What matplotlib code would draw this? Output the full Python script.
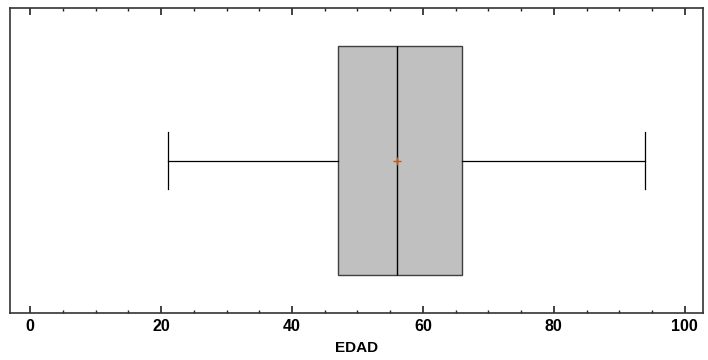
import matplotlib
matplotlib.use("Agg")
import matplotlib.pyplot as plt
from matplotlib.ticker import MultipleLocator

# resumen de la variable EDAD
var_name = "EDAD"
whisker_lo = 21
q1 = 47
median = 56
q3 = 66
whisker_hi = 94
mean = 56.1

plt.rcParams['font.family'] = ['Liberation Sans', 'DejaVu Sans']

fig = plt.figure(figsize=(7.08, 3.6), dpi=100)
ax = fig.add_axes([10/708, 1 - 313/360, 693/708, 305/360])

stats = [{
    "whislo": whisker_lo, "q1": q1, "med": median, "q3": q3,
    "whishi": whisker_hi, "mean": mean, "fliers": [], "label": var_name,
}]
ax.bxp(stats, positions=[0], vert=False, widths=0.754, patch_artist=True,
       showmeans=True, showcaps=True,
       boxprops=dict(facecolor="#c0c0c0", edgecolor="#404040", linewidth=1.0),
       medianprops=dict(color="black", linewidth=1.0),
       whiskerprops=dict(color="black", linewidth=0.9),
       capprops=dict(color="black", linewidth=0.9),
       capwidths=0.19,
       meanprops=dict(marker="+", markeredgecolor="#c05a10", markersize=6,
                      markeredgewidth=1.0))

ax.set_ylim(-0.5, 0.5)
ax.set_xlim(-3.1, 102.8)
ax.set_yticks([])
ax.xaxis.set_major_locator(MultipleLocator(20))
ax.xaxis.set_minor_locator(MultipleLocator(5))
ax.tick_params(axis="x", which="both", direction="in", top=True, bottom=True,
               color="#222222", labelsize=11.5, pad=4)
ax.tick_params(axis="x", which="major", length=5, width=1.2)
ax.tick_params(axis="x", which="minor", length=2.5, width=1.0)
for lbl in ax.get_xticklabels():
    lbl.set_fontweight("bold")
for sp in ax.spines.values():
    sp.set_color("#333333")
    sp.set_linewidth(1.2)
ax.set_xlabel(var_name, fontsize=11, fontweight="bold", labelpad=5)

fig.savefig("out.png", dpi=100)
